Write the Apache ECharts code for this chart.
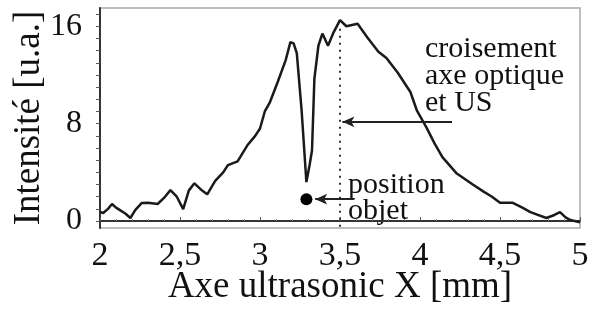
<!DOCTYPE html>
<html>
<head>
<meta charset="utf-8">
<script src="https://cdn.jsdelivr.net/npm/echarts@6/dist/echarts.min.js"></script>
<style>
  html, body { margin: 0; padding: 0; background: #fff; }
  #chart { width: 597px; height: 320px; }
</style>
</head>
<body>
<div id="chart"></div>
<script>
// signal trace: [x mm, intensity u.a.]
var xValues = [2.00, 2.02, 2.05, 2.075, 2.10, 2.125, 2.16, 2.19, 2.22, 2.26, 2.30, 2.36, 2.40, 2.44, 2.48,
  2.52, 2.555, 2.59, 2.63, 2.67, 2.72, 2.77, 2.80, 2.86, 2.92, 2.97, 3.00, 3.03, 3.06, 3.11, 3.16,
  3.19, 3.21, 3.23, 3.26, 3.29, 3.31, 3.325, 3.34, 3.365, 3.39, 3.425, 3.46, 3.50, 3.54, 3.61, 3.67,
  3.74, 3.79, 3.86, 3.94, 3.98, 4.04, 4.09, 4.14, 4.23, 4.33, 4.40, 4.45, 4.50, 4.58, 4.64, 4.69,
  4.79, 4.84, 4.875, 4.91, 4.94, 5.00]
var intensity = [0.74, 0.66, 1.0, 1.4, 1.1, 0.9, 0.6, 0.25, 0.9, 1.48, 1.5, 1.4, 1.9, 2.54, 2.0,
  0.98, 2.5, 3.1, 2.6, 2.2, 3.3, 4.0, 4.6, 4.9, 6.2, 7.0, 7.6, 9.0, 9.7, 11.4, 13.2,
  14.7, 14.6, 13.8, 9.1, 3.2, 4.6, 5.8, 11.7, 14.4, 15.4, 14.4, 15.5, 16.5, 16.0, 16.2, 15.1,
  13.9, 13.4, 12.2, 10.6, 9.1, 7.7, 6.4, 5.25, 3.9, 3.0, 2.4, 2.0, 1.5, 1.5, 1.1, 0.74,
  0.25, 0.5, 0.74, 0.3, 0.08, -0.1]

var xTicks = [2, 2.5, 3, 3.5, 4, 4.5, 5]
var yLabels = [0, 8, 16]
var yTicks = [0, 1, 2, 3, 4, 5, 6, 7, 8, 9, 10, 11, 12, 13, 14, 15, 16, 17]

// annotations
var objectDot = [3.29, 1.8]
var crossingX = 3.5
var crossingLineY = [15.8, -0.57]
var arrowCross = [[4.2, 8.15], [3.515, 8.15]]
var arrowObject = [[3.59, 1.8], [3.345, 1.8]]

var points = xValues.map(function (x, i) { return [x, intensity[i]] })
var serif = 'Liberation Serif'

var myChart = echarts.init(document.getElementById('chart'))
var option = {
  backgroundColor: '#fff',
  animation: false,
  grid: {
    left: 100,
    right: 17,
    top: 8,
    bottom: 92,
    outerBoundsMode: 'none',
    show: true,
    borderColor: '#aaa',
    borderWidth: 1.5
  },
  xAxis: {
    type: 'value',
    min: 2,
    max: 5,
    interval: 0.5,
    name: 'Axe ultrasonic X [mm]',
    nameLocation: 'middle',
    nameGap: 41,
    nameMoveOverlap: false,
    nameTextStyle: { fontFamily: serif, fontSize: 37, color: '#111' },
    axisLine: { show: true, lineStyle: { color: '#333', width: 2 } },
    axisTick: { inside: true, length: 4, lineStyle: { color: '#555' } },
    minorTick: { show: true, splitNumber: 5, length: 2, lineStyle: { color: '#777' } },
    splitLine: { show: false },
    axisLabel: {
      customValues: xTicks,
      fontFamily: serif,
      fontSize: 34,
      color: '#111',
      margin: 11,
      formatter: function (v) { return String(v).replace('.', ',') }
    }
  },
  yAxis: {
    type: 'value',
    min: -0.57,
    max: 17.5,
    name: 'Intensité [u.a.]',
    nameLocation: 'middle',
    nameGap: 52,
    nameMoveOverlap: false,
    nameTextStyle: { fontFamily: serif, fontSize: 37, color: '#111' },
    axisLine: { show: true, lineStyle: { color: '#333', width: 2 } },
    axisTick: { customValues: yTicks, length: 4, lineStyle: { color: '#555' } },
    splitLine: { show: false },
    axisLabel: {
      customValues: yLabels,
      fontFamily: serif,
      fontSize: 32,
      color: '#111',
      margin: 18
    }
  },
  series: [
    {
      name: 'intensite',
      type: 'line',
      data: points,
      showSymbol: false,
      lineStyle: { color: '#1a1a1a', width: 2.5 },
      markLine: {
        silent: true,
        symbol: ['none', 'none'],
        label: { show: false },
        data: [
          [
            { coord: [crossingX, crossingLineY[0]], lineStyle: { type: [2, 5], width: 2, color: '#333' } },
            { coord: [crossingX, crossingLineY[1]] }
          ],
          [
            { coord: arrowCross[0], symbol: 'none', lineStyle: { type: 'solid', width: 2, color: '#222' } },
            { coord: arrowCross[1], symbol: 'arrow', symbolSize: [8, 12] }
          ],
          [
            { coord: arrowObject[0], symbol: 'none', lineStyle: { type: 'solid', width: 2, color: '#222' } },
            { coord: arrowObject[1], symbol: 'arrow', symbolSize: [8, 12] }
          ]
        ]
      }
    },
    {
      name: 'objet',
      type: 'scatter',
      data: [objectDot],
      symbolSize: 12,
      itemStyle: { color: '#000', opacity: 1 }
    }
  ],
  graphic: [
    {
      type: 'text',
      left: 425,
      top: 34,
      style: {
        text: 'croisement\naxe optique\net US',
        font: '30px "Liberation Serif"',
        lineHeight: 27,
        fill: '#111'
      }
    },
    {
      type: 'text',
      left: 348,
      top: 170,
      style: {
        text: 'position\nobjet',
        font: '30px "Liberation Serif"',
        lineHeight: 26,
        fill: '#111'
      }
    }
  ]
}
myChart.setOption(option)
</script>
</body>
</html>
